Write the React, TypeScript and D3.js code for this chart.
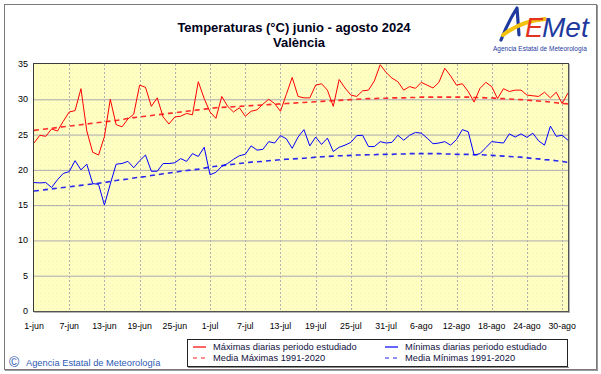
import React from "react";
import * as d3 from "d3";

// daily values 1-jun .. 31-ago 2024 (92 days)
const tmax: number[] = [
  23.8, 24.9, 24.75, 25.8, 25.5, 26.9, 28.2, 28.4, 31.5, 25.5,
  22.5, 22.1, 24.7, 30.0, 26.4, 26.1, 27.2, 27.9, 32.0, 31.7,
  29.0, 30.2, 27.5, 26.5, 27.5, 27.6, 28.0, 27.8, 32.5, 30.1,
  28.2, 27.3, 30.4, 29.0, 28.2, 28.8, 27.6, 28.3, 28.5, 29.3,
  30.0, 29.4, 28.3, 30.7, 33.1, 30.4, 30.2, 30.2, 32.0, 32.2,
  31.3, 29.0, 32.8, 31.6, 30.6, 30.4, 31.2, 31.3, 32.6, 34.9,
  33.8, 33.0, 32.5, 31.3, 31.8, 31.55, 32.4, 32.0, 31.6, 32.4,
  34.4, 33.3, 32.0, 32.2, 31.1, 29.6, 31.55, 32.4, 31.8, 30.1,
  31.5, 31.1, 31.3, 31.3, 30.6, 30.5, 30.4, 31.0, 30.2, 31.0,
  29.4, 30.9,
];

const tmin: number[] = [
  18.2, 18.15, 18.2, 17.5, 18.6, 19.5, 19.75, 21.3, 20.0, 20.8,
  18.05, 17.95, 15.0, 18.0, 20.8, 20.9, 21.2, 20.3, 21.3, 22.1,
  19.8, 19.8, 20.9, 20.9, 21.0, 21.6, 21.2, 22.3, 21.9, 23.2,
  19.3, 19.65, 20.5, 20.9, 21.5, 22.0, 22.2, 23.4, 22.8, 22.9,
  24.0, 23.8, 24.85, 24.4, 23.05, 24.65, 25.7, 23.4, 24.65, 23.6,
  24.5, 22.6, 23.2, 23.5, 23.9, 24.85, 24.9, 23.3, 23.3, 24.0,
  23.8, 23.9, 24.9, 24.2, 24.9, 25.3, 25.2, 24.5, 23.7, 23.8,
  24.0, 23.5, 24.3, 25.7, 25.4, 22.1, 22.3, 23.15, 24.0, 23.9,
  23.8, 25.1, 24.65, 25.1, 24.6, 25.2, 24.1, 23.5, 26.2, 24.75,
  24.9, 24.2,
];

// 1991-2020 normals
const meanMax: number[] = [
  25.6, 25.7, 25.8, 25.9, 26.0, 26.1, 26.2, 26.3, 26.4, 26.5,
  26.6, 26.7, 26.8, 26.9, 27.0, 27.1, 27.3, 27.4, 27.5, 27.6,
  27.7, 27.8, 27.9, 28.0, 28.1, 28.2, 28.3, 28.4, 28.5, 28.6,
  28.7, 28.8, 28.85, 28.9, 28.95, 29.0, 29.05, 29.1, 29.15, 29.2,
  29.25, 29.3, 29.35, 29.4, 29.45, 29.5, 29.55, 29.6, 29.65, 29.7,
  29.75, 29.8, 29.85, 29.9, 29.95, 30.0, 30.05, 30.1, 30.1, 30.15,
  30.15, 30.2, 30.2, 30.2, 30.25, 30.25, 30.3, 30.3, 30.3, 30.3,
  30.3, 30.3, 30.3, 30.3, 30.3, 30.25, 30.25, 30.2, 30.2, 30.1,
  30.1, 30.05, 30.0, 29.95, 29.9, 29.8, 29.75, 29.7, 29.6, 29.5,
  29.4, 29.35,
];

const meanMin: number[] = [
  17.0, 17.1, 17.2, 17.3, 17.4, 17.5, 17.6, 17.7, 17.8, 17.9,
  18.0, 18.1, 18.2, 18.35, 18.5, 18.6, 18.7, 18.85, 18.95, 19.05,
  19.2, 19.3, 19.45, 19.55, 19.65, 19.8, 19.9, 20.0, 20.1, 20.25,
  20.4, 20.5, 20.6, 20.7, 20.8, 20.9, 21.0, 21.1, 21.15, 21.2,
  21.3, 21.35, 21.45, 21.5, 21.55, 21.6, 21.65, 21.7, 21.8, 21.85,
  21.9, 21.95, 22.0, 22.0, 22.05, 22.1, 22.1, 22.15, 22.15, 22.2,
  22.2, 22.2, 22.25, 22.25, 22.3, 22.3, 22.3, 22.3, 22.3, 22.3,
  22.25, 22.25, 22.2, 22.2, 22.2, 22.15, 22.15, 22.1, 22.05, 22.0,
  21.95, 21.9, 21.85, 21.8, 21.7, 21.6, 21.55, 21.45, 21.4, 21.3,
  21.2, 21.05,
];

const tickDays: number[] = [0, 6, 12, 18, 24, 30, 36, 42, 48, 54, 60, 66, 72, 78, 84, 90];
const tickLabels: string[] = [
  "1-jun", "7-jun", "13-jun", "19-jun", "25-jun", "1-jul", "7-jul", "13-jul",
  "19-jul", "25-jul", "31-jul", "6-ago", "12-ago", "18-ago", "24-ago", "30-ago",
];
const yTicks: number[] = [0, 5, 10, 15, 20, 25, 30, 35];

const W = 601;
const H = 374;
const plot = { left: 34, right: 568, top: 64, bottom: 311 };
const font = "'Liberation Sans', Arial, sans-serif";

const x = d3.scaleLinear().domain([0, tmax.length - 1]).range([plot.left, plot.right]);
const y = d3.scaleLinear().domain([0, 35]).range([plot.bottom, plot.top]);

const line = d3
  .line<number>()
  .x((_, i) => x(i))
  .y((d) => y(d));

const legendItems = [
  { label: "Máximas diarias periodo estudiado", color: "#ff0000", dash: "", col: 0, row: 0 },
  { label: "Media Máximas 1991-2020", color: "#ff2020", dash: "4,4", col: 0, row: 1 },
  { label: "Mínimas diarias periodo estudiado", color: "#0000ff", dash: "", col: 1, row: 0 },
  { label: "Media Mínimas 1991-2020", color: "#2020ee", dash: "4,4", col: 1, row: 1 },
];

export default function App() {
  return (
    <svg
      width={W}
      height={H}
      style={{ position: "absolute", left: 0, top: 0, display: "block", background: "#fff" }}
    >
      <defs>
        <pattern id="dots" width="4" height="4" patternUnits="userSpaceOnUse">
          <rect width="4" height="4" fill="#ffffc4" />
          <rect x="0" y="0" width="1" height="1" fill="#f6f2b0" />
          <rect x="2" y="2" width="1" height="1" fill="#f8f4b6" />
        </pattern>
      </defs>

      {/* outer frame */}
      <rect x={4.5} y={4.5} width={592} height={365} fill="none" stroke="#7a7a7a" />
      <line x1={5} x2={598} y1={370.5} y2={370.5} stroke="#9a9a9a" />
      <line x1={597.5} x2={597.5} y1={5} y2={371} stroke="#9a9a9a" />

      {/* title */}
      <text x={294} y={32} textAnchor="middle" fontFamily={font} fontWeight="bold" fontSize={13} fill="#00001a">
        Temperaturas (°C) junio - agosto 2024
      </text>
      <text x={299} y={47} textAnchor="middle" fontFamily={font} fontWeight="bold" fontSize={13} fill="#00001a">
        València
      </text>

      {/* logo */}
      <g>
        <path d="M501,40 Q508,22 517,8 L519,35" fill="none" stroke="#1f3a9e" strokeWidth={3.2} strokeLinejoin="round" strokeLinecap="round" />
        <path d="M503,35 Q521,21 545,19" fill="none" stroke="#f4c20d" strokeWidth={4} strokeLinecap="round" />
        <text x={525} y={37} fontFamily={font} fontStyle="italic" fontSize={27} fill="#e3321e">E</text>
        <text x={542} y={37} fontFamily={font} fontStyle="italic" fontSize={28} fill="#1f3a9e">Met</text>
        <text x={493} y={51} fontFamily={font} fontSize={6.5} fill="#1f3a9e">Agencia Estatal de Meteorología</text>
      </g>

      {/* plot area */}
      <rect x={plot.left} y={plot.top} width={plot.right - plot.left} height={plot.bottom - plot.top} fill="url(#dots)" />

      {yTicks.slice(1, -1).map((t) => (
        <line key={t} x1={plot.left} x2={plot.right} y1={y(t) + 0.5} y2={y(t) + 0.5} stroke="#aca8b0" />
      ))}
      {tickDays.slice(1).map((d) => (
        <line
          key={d}
          x1={Math.round(x(d)) + 0.5}
          x2={Math.round(x(d)) + 0.5}
          y1={plot.top}
          y2={plot.bottom}
          stroke="#b0b0b0"
          strokeDasharray="2,2"
        />
      ))}

      <path d={line(meanMax) || ""} fill="none" stroke="#ff2a2a" strokeWidth={1.6} strokeDasharray="5,4" />
      <path d={line(meanMin) || ""} fill="none" stroke="#2a2aee" strokeWidth={1.6} strokeDasharray="5,4" />
      <path d={line(tmax) || ""} fill="none" stroke="#ff0000" strokeWidth={1} />
      <path d={line(tmin) || ""} fill="none" stroke="#0000ff" strokeWidth={1} />

      {/* plot frame */}
      <rect x={plot.left - 0.5} y={plot.top - 0.5} width={plot.right - plot.left + 1} height={plot.bottom - plot.top + 1} fill="none" stroke="#3c3c3c" />
      <line x1={plot.left} x2={plot.right + 1.5} y1={plot.bottom + 1} y2={plot.bottom + 1} stroke="#6a6a6a" />
      <line x1={plot.right + 1} x2={plot.right + 1} y1={plot.top} y2={plot.bottom + 1.5} stroke="#6a6a6a" />

      {/* axes labels */}
      {yTicks.map((t) => (
        <text key={t} x={28} y={y(t) + 3} textAnchor="end" fontFamily={font} fontSize={9} fill="#000">
          {t}
        </text>
      ))}
      {tickDays.map((d, i) => (
        <text key={d} x={x(d)} y={329} textAnchor="middle" fontFamily={font} fontSize={8.8} fill="#000">
          {tickLabels[i]}
        </text>
      ))}

      {/* copyright */}
      <text x={9} y={366.5} fontFamily={font} fontSize={14} fill="#2d5ab4">©</text>
      <text x={26} y={366} fontFamily={font} fontSize={9.3} fill="#2d5ab4">Agencia Estatal de Meteorología</text>

      {/* legend */}
      <rect x={187.5} y={339.5} width={380} height={27} fill="#fff" stroke="#222" />
      <line x1={188} x2={569} y1={367.5} y2={367.5} stroke="#888" />
      {legendItems.map((it) => {
        const lx = it.col === 0 ? 193 : 385;
        const ly = it.row === 0 ? 347 : 358;
        return (
          <g key={it.label}>
            <line x1={lx} x2={lx + 13} y1={ly} y2={ly} stroke={it.color} strokeWidth={1.2} strokeDasharray={it.dash} />
            <text x={lx + 20} y={ly + 3.2} fontFamily={font} fontSize={9.3} fill="#101040">
              {it.label}
            </text>
          </g>
        );
      })}
    </svg>
  );
}
